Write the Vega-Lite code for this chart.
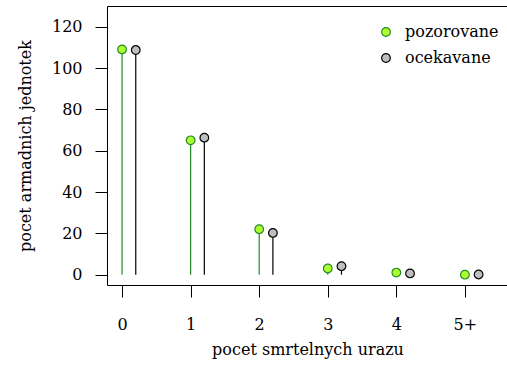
{
  "$schema": "https://vega.github.io/schema/vega-lite/v6.json",
  "width": 401,
  "height": 279,
  "autosize": {"type": "none"},
  "padding": {"left": 107, "top": 6, "right": 0, "bottom": 80},
  "background": "white",
  "config": {
    "font": "DejaVu Serif",
    "view": {"stroke": "black", "strokeWidth": 1},
    "axis": {
      "grid": false,
      "domain": false,
      "tickColor": "black",
      "tickWidth": 1,
      "tickSize": 12,
      "labelColor": "black",
      "labelFont": "DejaVu Serif",
      "labelFontSize": 16,
      "titleFont": "DejaVu Serif",
      "titleFontSize": 16,
      "titleFontWeight": "normal",
      "titleColor": "black"
    },
    "legend": {
      "labelFont": "DejaVu Serif"
    }
  },
  "data": {
    "values": [
      {"urazy": "0", "typ": "pozorovane", "pocet": 109},
      {"urazy": "1", "typ": "pozorovane", "pocet": 65},
      {"urazy": "2", "typ": "pozorovane", "pocet": 22},
      {"urazy": "3", "typ": "pozorovane", "pocet": 3},
      {"urazy": "4", "typ": "pozorovane", "pocet": 1},
      {"urazy": "5+", "typ": "pozorovane", "pocet": 0},
      {"urazy": "0", "typ": "ocekavane", "pocet": 108.7},
      {"urazy": "1", "typ": "ocekavane", "pocet": 66.3},
      {"urazy": "2", "typ": "ocekavane", "pocet": 20.2},
      {"urazy": "3", "typ": "ocekavane", "pocet": 4.1},
      {"urazy": "4", "typ": "ocekavane", "pocet": 0.6},
      {"urazy": "5+", "typ": "ocekavane", "pocet": 0.1}
    ]
  },
  "encoding": {
    "x": {
      "field": "urazy",
      "type": "ordinal",
      "sort": ["0", "1", "2", "3", "4", "5+"],
      "scale": {"type": "point", "padding": 0.424, "align": 0.259},
      "axis": {
        "title": "pocet smrtelnych urazu",
        "labelAngle": 0,
        "labelPadding": 19,
        "titlePadding": 9
      }
    },
    "xOffset": {
      "field": "typ",
      "type": "nominal",
      "scale": {"type": "point", "domain": ["pozorovane", "ocekavane"], "range": [0, 13.7], "padding": 0}
    },
    "y": {
      "field": "pocet",
      "type": "quantitative",
      "scale": {"domain": [-5, 130], "nice": false, "zero": false},
      "axis": {
        "title": "pocet armadnich jednotek",
        "values": [0, 20, 40, 60, 80, 100, 120],
        "labelPadding": 13,
        "titlePadding": 18
      }
    }
  },
  "layer": [
    {
      "transform": [{"filter": "datum.typ === 'pozorovane'"}],
      "mark": {"type": "rule", "strokeWidth": 1.2, "color": "#228B22"},
      "encoding": {"y2": {"datum": 0}}
    },
    {
      "transform": [{"filter": "datum.typ === 'ocekavane'"}],
      "mark": {"type": "rule", "strokeWidth": 1.2, "color": "#000000"},
      "encoding": {"y2": {"datum": 0}}
    },
    {
      "mark": {"type": "point", "shape": "circle", "filled": true, "size": 75, "strokeWidth": 1.2, "opacity": 1},
      "encoding": {
        "fill": {
          "field": "typ",
          "type": "nominal",
          "scale": {"domain": ["pozorovane", "ocekavane"], "range": ["#ADFF2F", "#BEBEBE"]},
          "legend": {
            "title": null,
            "orient": "none",
            "legendX": 271,
            "legendY": 18,
            "padding": 0,
            "rowPadding": 10,
            "labelFontSize": 16,
            "labelColor": "black",
            "labelOffset": 11,
            "symbolType": "circle",
            "symbolSize": 75,
            "symbolStrokeWidth": 1.2,
            "symbolOpacity": 1
          }
        },
        "stroke": {
          "field": "typ",
          "type": "nominal",
          "scale": {"domain": ["pozorovane", "ocekavane"], "range": ["#228B22", "#000000"]}
        }
      }
    }
  ]
}
